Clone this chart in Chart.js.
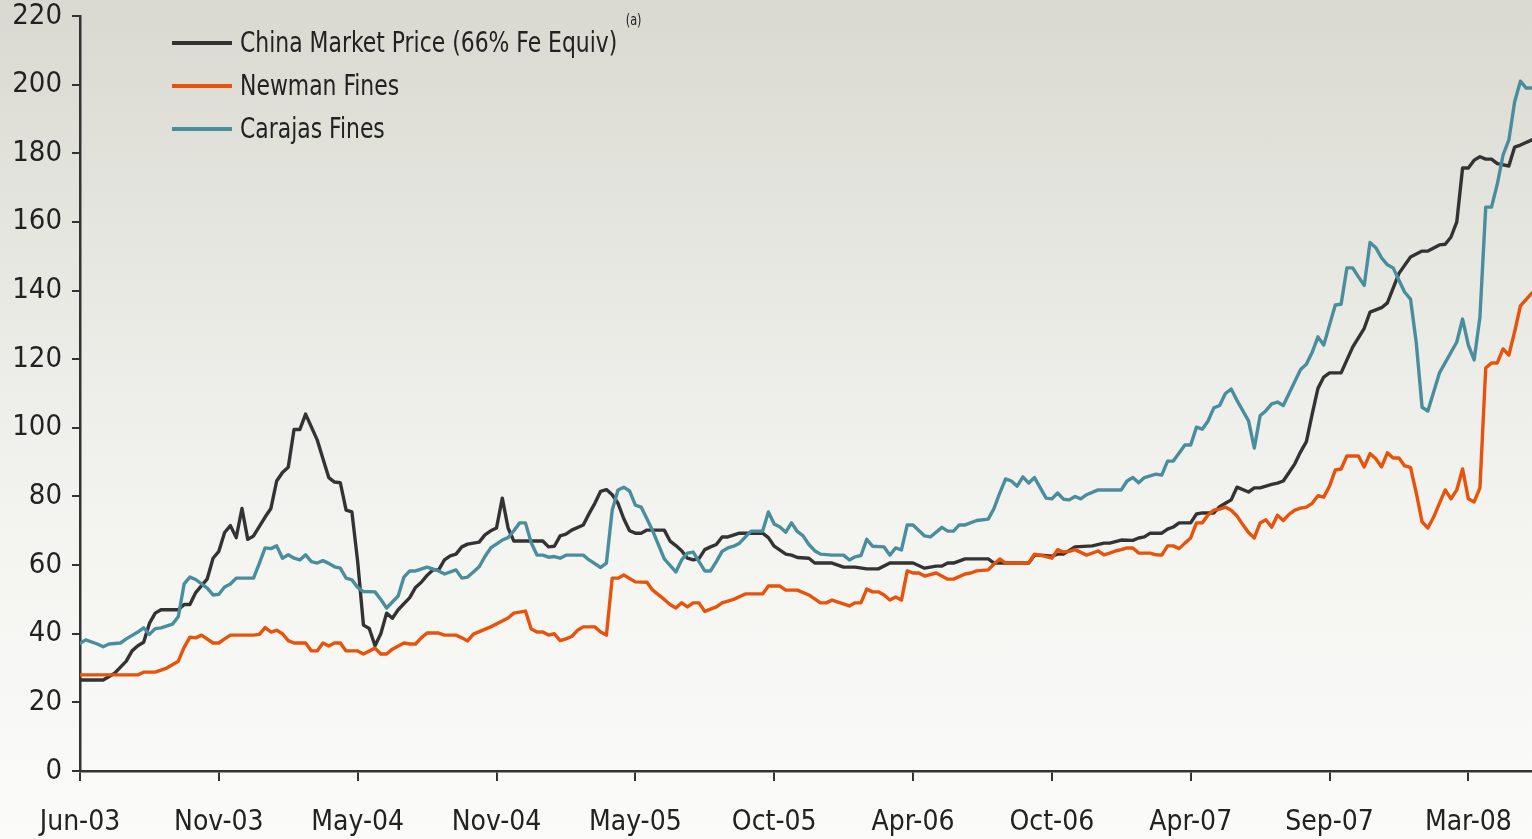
<!DOCTYPE html>
<html>
<head>
<meta charset="utf-8">
<script src="https://cdn.jsdelivr.net/npm/chart.js@4"></script>
<style>
  html, body { margin: 0; padding: 0; }
  body {
    width: 1532px; height: 839px; overflow: hidden;
    background: linear-gradient(to bottom, #d9d9d1 0%, #e9e9e4 35%, #f4f4f1 65%, #fbfbf9 100%);
  }
  #wrap { position: relative; width: 1532px; height: 839px; }
</style>
</head>
<body>
<div id="wrap"><canvas id="ironChart" width="1532" height="839"></canvas></div>
<script>
// weekly series, x = weeks since start of Jun-03
const tickWeeks = [0, 24, 48, 72, 96, 120, 144, 168, 192, 216, 240];
const tickLabels = ["Jun-03", "Nov-03", "May-04", "Nov-04", "May-05", "Oct-05", "Apr-06", "Oct-06", "Apr-07", "Sep-07", "Mar-08"];

const chinaWeeks = [0, 4, 6, 8, 9, 10, 11, 12, 13, 14, 17, 18, 19, 20, 22, 23, 24, 25, 26, 27, 28, 29, 30, 32, 33, 34, 35, 36, 37, 38, 39, 41, 42, 43, 44, 45, 46, 47, 48, 49, 50, 51, 52, 53, 54, 55, 57, 58, 59, 60, 61, 62, 63, 64, 65, 66, 67, 69, 70, 71, 72, 73, 74, 75, 80, 81, 82, 83, 84, 85, 87, 88, 89, 90, 91, 92, 93, 94, 95, 96, 97, 98, 101, 102, 103, 104, 105, 106, 107, 108, 109, 110, 111, 112, 114, 118, 119, 120, 122, 123, 124, 126, 127, 130, 132, 134, 136, 138, 140, 144, 146, 148, 149, 150, 151, 153, 157, 158, 164, 165, 166, 168, 169, 170, 172, 175, 177, 178, 180, 182, 183, 184, 185, 187, 188, 189, 190, 192, 193, 194, 196, 197, 198, 199, 200, 202, 203, 204, 206, 207, 208, 209, 210, 211, 212, 213, 214, 215, 216, 218, 220, 222, 223, 225, 226, 228, 230, 232, 233, 235, 236, 237, 238, 239, 240, 241, 242, 243, 244, 245, 247, 248, 249, 251];
const chinaPrice = [26.5, 26.5, 28.5, 32, 35, 36.5, 37.5, 43, 46, 47, 47, 48.5, 48.5, 52, 56, 62, 64, 69.5, 71.5, 68, 76.5, 67.5, 68.5, 74, 76.5, 84.5, 87, 88.5, 99.5, 99.5, 104, 96.5, 91, 85.5, 84.2, 84, 76, 75.5, 61, 42.5, 41.5, 36.5, 40, 46, 44.5, 47, 50.5, 53.5, 55, 57, 58.6, 58.6, 61.5, 62.7, 63.2, 65.3, 66.1, 66.7, 68.8, 70, 70.8, 79.5, 70.8, 67, 67, 65.3, 65.5, 68.5, 69, 70.2, 71.7, 75, 78, 81.5, 82, 80.5, 78, 73.5, 70, 69.3, 69.3, 70.2, 70.2, 67, 65.7, 64.2, 62, 61.5, 61.9, 64.5, 65.3, 66, 68.2, 68.2, 69.3, 69.3, 68, 65.5, 63.2, 62.9, 62.2, 62, 60.6, 60.6, 59.4, 59.4, 58.9, 58.9, 60.6, 60.6, 59.1, 59.7, 59.7, 60.6, 60.6, 61.8, 61.8, 60.6, 60.6, 62.9, 62.9, 62.6, 63.2, 63.2, 65.3, 65.6, 66.4, 66.4, 67.3, 67.2, 67.9, 68.2, 69.3, 69.3, 70.5, 71.1, 72.3, 72.3, 74.9, 75.2, 75.2, 77, 78, 79, 82.7, 81.3, 82.5, 82.5, 83.5, 83.9, 84.5, 87, 89.5, 93, 96, 104, 111.5, 114.8, 116, 116, 123.5, 129, 133.7, 135, 136.4, 145, 149.8, 151.5, 151.5, 153.3, 153.5, 155.6, 160, 175.7, 175.7, 178, 179, 178.3, 178.3, 177, 176.3, 181.8, 182.4, 183.9];

const newmanWeeks = [0, 10, 11, 13, 15, 17, 18, 19, 20, 21, 23, 24, 25, 26, 30, 31, 32, 33, 34, 35, 36, 37, 39, 40, 41, 42, 43, 44, 45, 46, 48, 49, 51, 52, 53, 54, 56, 57, 58, 59, 60, 62, 63, 65, 66, 67, 68, 71, 73, 74, 75, 77, 78, 79, 80, 81, 82, 83, 84, 85, 86, 87, 89, 90, 91, 92, 93, 94, 96, 98, 99, 101, 102, 103, 104, 105, 106, 107, 108, 110, 111, 113, 115, 118, 119, 121, 122, 124, 126, 128, 129, 130, 133, 134, 135, 136, 137, 138, 139, 140, 141, 142, 143, 144, 145, 146, 148, 150, 151, 153, 154, 155, 157, 158, 159, 160, 164, 165, 166, 168, 169, 170, 171, 172, 174, 176, 177, 178, 179, 180, 181, 182, 183, 184, 185, 186, 187, 188, 189, 190, 191, 192, 193, 194, 195, 196, 197, 198, 199, 200, 201, 202, 203, 204, 205, 206, 207, 208, 209, 210, 211, 212, 213, 214, 215, 216, 217, 218, 219, 221, 222, 223, 224, 225, 226, 227, 228, 229, 230, 231, 232, 233, 234, 235, 236, 237, 238, 239, 240, 241, 242, 243, 244, 245, 246, 247, 248, 249, 251];
const newmanPrice = [28, 28, 28.8, 28.8, 30, 32, 36, 39, 38.8, 39.6, 37.3, 37.3, 38.5, 39.6, 39.6, 39.8, 41.8, 40.5, 41, 40, 38, 37.3, 37.3, 35, 35, 37.3, 36.4, 37.3, 37.3, 35, 35, 34.1, 35.8, 34.1, 34.1, 35.5, 37.3, 37, 37, 38.8, 40.2, 40.2, 39.6, 39.6, 38.8, 37.9, 39.9, 42, 43.7, 44.6, 46, 46.6, 41.4, 40.5, 40.5, 39.6, 40, 38, 38.5, 39.2, 41, 42, 42, 40.5, 39.6, 56.2, 56.2, 57.1, 55.1, 55, 52.7, 50, 48.5, 47.5, 49, 47.8, 49, 49, 46.5, 47.8, 49, 50, 51.6, 51.6, 53.9, 53.9, 52.7, 52.7, 51.3, 49, 49, 49.8, 48.1, 49, 49, 53, 52.2, 52.2, 51.3, 49.8, 50.7, 49.8, 58.3, 57.7, 57.7, 56.8, 57.7, 55.9, 55.9, 57.4, 57.7, 58.3, 58.6, 60.3, 61.8, 60.6, 60.6, 63.2, 62.9, 62, 64.5, 63.8, 64, 64.5, 62.9, 64.1, 63, 63.5, 64.1, 64.5, 65, 65, 63.5, 63.5, 63.5, 63, 62.9, 65.6, 65.6, 64.8, 66.4, 67.9, 72.3, 72.3, 74.6, 76, 76.3, 76.9, 76, 74.3, 71.8, 69.5, 67.9, 72.3, 73.2, 71, 74.5, 73, 74.8, 76, 76.6, 76.9, 78, 80.2, 79.8, 83, 87.7, 88, 91.8, 91.8, 88.6, 92.5, 91, 88.6, 92.7, 91.2, 91.2, 88.9, 88.5, 81, 72.6, 70.8, 74, 78, 81.9, 79.3, 81.9, 88, 79.3, 78.4, 82.5, 117.4, 118.9, 118.9, 123, 121.2, 128, 135.5, 139.3];

const carajasWeeks = [0, 1, 3, 4, 5, 7, 8, 10, 11, 12, 13, 14, 16, 17, 18, 19, 20, 22, 23, 24, 25, 26, 27, 30, 31, 32, 33, 34, 35, 36, 37, 38, 39, 40, 41, 42, 43, 44, 45, 46, 47, 48, 49, 51, 52, 53, 55, 56, 57, 58, 60, 62, 63, 65, 66, 67, 68, 69, 70, 71, 73, 74, 75, 76, 77, 78, 79, 80, 81, 82, 83, 84, 87, 88, 90, 91, 92, 93, 94, 95, 96, 97, 98, 99, 101, 103, 104, 105, 106, 108, 109, 110, 111, 112, 113, 114, 116, 118, 119, 120, 121, 122, 123, 124, 125, 126, 127, 128, 130, 132, 133, 134, 135, 136, 137, 139, 140, 141, 142, 143, 144, 146, 147, 149, 150, 151, 152, 153, 155, 157, 158, 159, 160, 161, 162, 163, 164, 165, 166, 167, 168, 169, 170, 171, 172, 173, 174, 176, 180, 181, 182, 183, 184, 185, 186, 187, 188, 189, 191, 192, 193, 194, 195, 196, 197, 198, 199, 200, 202, 203, 204, 205, 206, 207, 208, 209, 210, 211, 212, 213, 214, 215, 216, 217, 218, 219, 220, 221, 222, 223, 224, 225, 226, 227, 228, 229, 230, 231, 232, 233, 235, 236, 238, 239, 240, 241, 242, 243, 244, 245, 246, 247, 248, 249, 250, 251];
const carajasPrice = [37.2, 38.2, 37, 36.2, 37, 37.3, 38.5, 40.5, 41.7, 39.8, 41.5, 41.7, 42.8, 45, 54.5, 56.5, 55.8, 53.3, 51.3, 51.5, 53.6, 54.5, 56.2, 56.2, 60.5, 65, 64.8, 65.6, 62, 63, 62, 61.5, 63, 61, 60.6, 61.3, 60.5, 59.5, 59.1, 56.2, 55.7, 53.5, 52.3, 52.2, 50, 47.5, 51, 56.5, 58.3, 58.3, 59.4, 58.3, 57.4, 58.6, 56.2, 56.5, 58, 59.5, 62.5, 65, 67.3, 68, 70, 72.3, 72.3, 66.5, 62.9, 62.9, 62.3, 62.5, 62, 62.9, 62.9, 61.5, 59.3, 60.6, 76, 81.9, 82.7, 81.6, 77.5, 76.9, 73.5, 70, 61.8, 58, 61.5, 63.5, 63.8, 58.3, 58.3, 61, 64, 65, 65.5, 66.4, 69.9, 69.9, 75.5, 72, 71.1, 69.6, 72.3, 69.8, 68.5, 66, 64.2, 63.2, 62.9, 62.9, 61.5, 62.4, 62.8, 67.5, 65.5, 65.3, 62.9, 65, 64.4, 71.7, 71.7, 68.5, 68.2, 71, 69.9, 69.9, 71.7, 71.7, 73, 73.4, 76.5, 81, 85.1, 84.5, 83, 85.7, 83.9, 85.5, 82.5, 79.5, 79.3, 81, 79.2, 79, 80, 79.3, 80.5, 81.9, 81.9, 84.5, 85.5, 84, 85.5, 86, 86.5, 86.2, 90.3, 90.3, 95, 95, 100.2, 99.6, 102, 105.8, 106.5, 110, 111.3, 108, 102, 94.1, 103.5, 105, 107, 107.5, 106.5, 110, 113.5, 117, 118.5, 122, 126.5, 124.1, 130, 135.8, 136, 146.6, 146.6, 144, 141.5, 154, 152.5, 149.5, 147.5, 146.6, 143, 139.5, 137.5, 124.7, 106, 104.9, 116, 119, 125, 131.7, 124.1, 119.8, 132.3, 164.3, 164.3, 171, 179.5, 183.9, 195, 201, 199, 199];

const seriesNames = ["China Market Price (66% Fe Equiv)", "Newman Fines", "Carajas Fines"];
const seriesColors = ["#333333", "#e8520b", "#4a8d9d"];

const toPoints = (weeks, vals) => weeks.map((w, i) => ({ x: w, y: vals[i] }));

const FONT = "'DejaVu Sans Condensed', 'Liberation Sans Narrow', sans-serif";
const TEXT_COLOR = "#222222";

// legend drawn inside the plot, top left, text squeezed a bit like the original
const insideLegend = {
    id: "insideLegend",
    afterDraw(chart) {
        const ctx = chart.ctx;
        const squeeze = 0.84;
        ctx.save();
        ctx.textBaseline = "middle";
        seriesNames.forEach((name, i) => {
            const y = 43 + i * 43;
            ctx.strokeStyle = seriesColors[i];
            ctx.lineWidth = 4;
            ctx.beginPath();
            ctx.moveTo(172, y);
            ctx.lineTo(232, y);
            ctx.stroke();
        });
        ctx.scale(squeeze, 1);
        ctx.font = "29px " + FONT;
        ctx.fillStyle = TEXT_COLOR;
        seriesNames.forEach((name, i) => {
            ctx.fillText(name, 240 / squeeze, 44 + i * 43);
        });
        const w = ctx.measureText(seriesNames[0]).width;
        ctx.font = "15px " + FONT;
        ctx.fillText("(a)", 240 / squeeze + w + 10, 21);
        ctx.restore();
    }
};

const ctx = document.getElementById("ironChart").getContext("2d");
new Chart(ctx, {
    type: "line",
    data: {
        datasets: [
            { label: seriesNames[0], data: toPoints(chinaWeeks, chinaPrice), borderColor: seriesColors[0], order: 2 },
            { label: seriesNames[1], data: toPoints(newmanWeeks, newmanPrice), borderColor: seriesColors[1], order: 1 },
            { label: seriesNames[2], data: toPoints(carajasWeeks, carajasPrice), borderColor: seriesColors[2], order: 0 }
        ]
    },
    options: {
        responsive: false,
        animation: false,
        layout: { padding: { top: 16, right: 0, left: 0, bottom: 0 } },
        elements: {
            line: { borderWidth: 3.4, tension: 0, borderJoinStyle: "round", borderCapStyle: "round" },
            point: { radius: 0 }
        },
        plugins: { legend: { display: false }, tooltip: { enabled: false } },
        scales: {
            x: {
                type: "linear",
                min: 0,
                max: 251,
                afterBuildTicks: scale => { scale.ticks = tickWeeks.map(v => ({ value: v })); },
                afterFit: scale => {
                    scale.height = 68;
                    scale.paddingLeft = 0;
                    scale.paddingRight = 0;
                },
                grid: { drawOnChartArea: false, drawTicks: true, tickLength: 10, color: "#333333", lineWidth: 2 },
                border: { display: true, color: "#333333", width: 2.5 },
                ticks: {
                    autoSkip: false,
                    maxRotation: 0,
                    padding: 25,
                    color: TEXT_COLOR,
                    font: { family: FONT, size: 28 },
                    callback: (v) => tickLabels[tickWeeks.indexOf(v)]
                }
            },
            y: {
                min: 0,
                max: 220,
                afterFit: scale => {
                    scale.width = 80;
                    scale.paddingTop = 0;
                    scale.paddingBottom = 0;
                },
                grid: { drawOnChartArea: false, drawTicks: true, tickLength: 8, color: "#333333", lineWidth: 2 },
                border: { display: true, color: "#333333", width: 2.5 },
                ticks: {
                    stepSize: 20,
                    padding: 10,
                    color: TEXT_COLOR,
                    font: { family: FONT, size: 29 }
                }
            }
        }
    },
    plugins: [insideLegend]
});
</script>
</body>
</html>
